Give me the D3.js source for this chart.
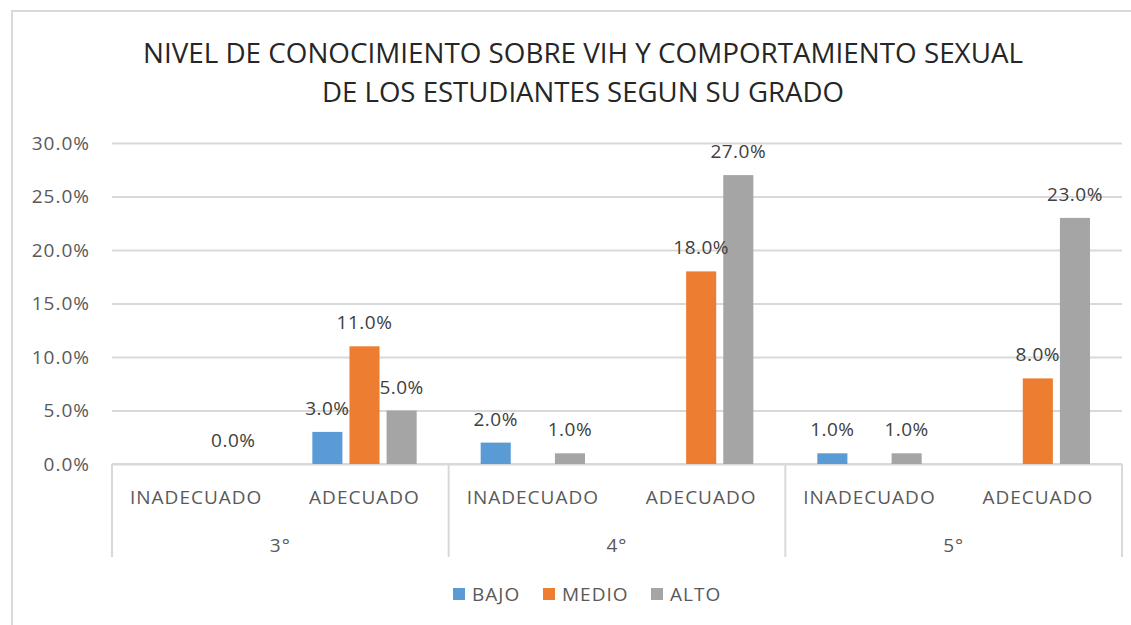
<!DOCTYPE html>
<html>
<head>
<meta charset="utf-8">
<script src="https://cdn.jsdelivr.net/npm/d3@7"></script>
<style>
    body { margin: 0; background: #fff; }
    svg text { font-family: 'Open Sans', sans-serif; }
</style>
</head>
<body>
<div id="chart"></div>
<script>
//Datos
const grados = ['3°', '4°', '5°'];
const niveles = ['INADECUADO', 'ADECUADO'];
const series = ['BAJO', 'MEDIO', 'ALTO'];
const bajo = [null, 0.03, 0.02, null, 0.01, null];
const medio = [null, 0.11, null, 0.18, null, 0.08];
const alto = [0.00, 0.05, 0.01, 0.27, 0.01, 0.23];
const yTicks = [0, 0.05, 0.10, 0.15, 0.20, 0.25, 0.30];
const titulo = ['NIVEL DE CONOCIMIENTO SOBRE VIH Y COMPORTAMIENTO SEXUAL', 'DE LOS ESTUDIANTES SEGUN SU GRADO'];

//Colores fijos
const COLORS = ['#5B9BD5', '#ED7D31', '#A5A5A5'];
const GRID = '#D9D9D9';

let width = 1131, height = 625;
let margin = {top: 143, right: 9, bottom: 161, left: 112};

let svg = d3.select('#chart').append('svg')
    .attr('width', width)
    .attr('height', height);

//Marco exterior
svg.append('rect')
    .attr('x', 12).attr('y', 11)
    .attr('width', width + 20).attr('height', height + 20)
    .attr('fill', 'none').attr('stroke', GRID).attr('stroke-width', 2);

//Titulo
svg.selectAll('.title')
    .data(titulo)
    .enter().append('text')
    .attr('class', 'title')
    .attr('x', 583)
    .attr('y', function(d, i) { return 63 + i * 39; })
    .attr('text-anchor', 'middle')
    .attr('font-size', '27px')
    .attr('fill', '#262626')
    .attr('textLength', function(d, i) { return i == 0 ? 880 : 522; })
    .attr('lengthAdjust', 'spacingAndGlyphs')
    .text(function(d) { return d; });

let cats = [];
grados.forEach(function(g) {
    niveles.forEach(function(n) { cats.push(g + '|' + n); });
});

let rows = cats.map(function(c, i) {
    return {cat: c, values: [bajo[i], medio[i], alto[i]]};
});

let x0 = d3.scaleBand()
    .domain(cats)
    .range([margin.left, width - margin.right]);

let xg = d3.scaleBand()
    .domain(grados)
    .range([margin.left, width - margin.right]);

let x1 = d3.scaleBand()
    .domain(series)
    .range([32, x0.bandwidth() - 32])
    .paddingInner(0.19);

let y = d3.scaleLinear()
    .domain([0, 0.30])
    .range([height - margin.bottom, margin.top]);

let baseY = y(0);

//Eje Y y rejilla
let yAxis = function(g) {
    g.call(d3.axisLeft(y).tickValues(yTicks).tickFormat(d3.format('.1%')).tickSize(-(width - margin.right - margin.left)).tickPadding(22));
    g.select('.domain').remove();
    g.selectAll('.tick line').attr('stroke', GRID).attr('stroke-width', 2);
    g.selectAll('.tick text')
        .attr('font-size', '19px')
        .attr('letter-spacing', '1px')
        .attr('fill', '#595959');
};

svg.append('g')
    .attr('transform', 'translate(' + margin.left + ',0)')
    .call(yAxis);

//Eje de categorias
let sepX = grados.map(function(g) { return xg(g); }).concat([width - margin.right]);
svg.selectAll('.sep')
    .data(sepX)
    .enter().append('line')
    .attr('x1', function(d) { return d; })
    .attr('x2', function(d) { return d; })
    .attr('y1', baseY)
    .attr('y2', baseY + 93)
    .attr('stroke', GRID).attr('stroke-width', 2);

svg.append('line')
    .attr('x1', margin.left).attr('x2', width - margin.right)
    .attr('y1', baseY).attr('y2', baseY)
    .attr('stroke', GRID).attr('stroke-width', 2);

svg.selectAll('.nivel')
    .data(cats)
    .enter().append('text')
    .attr('x', function(d) { return x0(d) + x0.bandwidth() / 2; })
    .attr('y', baseY + 40)
    .attr('text-anchor', 'middle')
    .attr('font-size', '19px')
    .attr('letter-spacing', '1px')
    .attr('fill', '#595959')
    .text(function(d) { return d.split('|')[1]; });

svg.selectAll('.grado')
    .data(grados)
    .enter().append('text')
    .attr('x', function(d) { return xg(d) + xg.bandwidth() / 2; })
    .attr('y', baseY + 88)
    .attr('text-anchor', 'middle')
    .attr('font-size', '19px')
    .attr('letter-spacing', '1px')
    .attr('fill', '#595959')
    .text(function(d) { return d; });

//Barras
let groups = svg.selectAll('.group')
    .data(rows)
    .enter().append('g')
    .attr('transform', function(d) { return 'translate(' + x0(d.cat) + ',0)'; });

let items = function(d) {
    return series.map(function(s, i) { return {serie: s, idx: i, value: d.values[i]}; })
        .filter(function(e) { return e.value !== null; });
};

groups.selectAll('rect')
    .data(items)
    .enter().append('rect')
    .attr('x', function(d) { return x1(d.serie); })
    .attr('y', function(d) { return y(d.value); })
    .attr('width', x1.bandwidth())
    .attr('height', function(d) { return baseY - y(d.value); })
    .attr('fill', function(d) { return COLORS[d.idx]; });

groups.selectAll('.label')
    .data(items)
    .enter().append('text')
    .attr('x', function(d) { return x1(d.serie) + x1.bandwidth() / 2; })
    .attr('y', function(d) { return y(d.value) - 17; })
    .attr('text-anchor', 'middle')
    .attr('font-size', '19px')
    .attr('letter-spacing', '0.5px')
    .attr('fill', '#404040')
    .text(function(d) { return d3.format('.1%')(d.value); });

//Leyenda
let legendX = [453, 543, 651];
let legend = svg.selectAll('.legend')
    .data(series)
    .enter().append('g')
    .attr('transform', function(d, i) { return 'translate(' + legendX[i] + ',588)'; });

legend.append('rect')
    .attr('width', 12).attr('height', 12)
    .attr('fill', function(d, i) { return COLORS[i]; });

legend.append('text')
    .attr('x', 19).attr('y', 13)
    .attr('font-size', '19px')
    .attr('letter-spacing', '1px')
    .attr('fill', '#595959')
    .text(function(d) { return d; });
</script>
</body>
</html>
